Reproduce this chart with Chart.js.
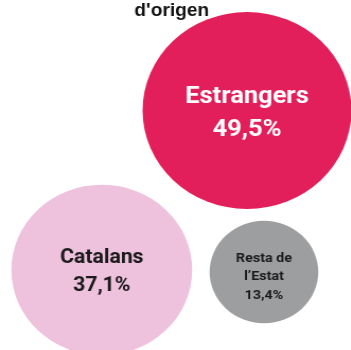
<!DOCTYPE html>
<html>
<head>
<meta charset="utf-8">
<script src="https://cdn.jsdelivr.net/npm/chart.js@4.4.1/dist/chart.umd.min.js"></script>
<style>
  html, body { margin: 0; padding: 0; background: #fff; overflow: hidden; }
  /* the whole graphic is drawn slightly wider than tall */
  #wrap { width: 331px; height: 350px; transform: scaleX(1.06); transform-origin: 0 0; }
</style>
</head>
<body>
<div id="wrap"><canvas id="chart"></canvas></div>
<script>
"use strict";

// ── Data ──
const categories = [["Estrangers"], ["Catalans"], ["Resta de", "l\u2019Estat"]];
const shares     = [49.5, 37.1, 13.4];          // % of population
const centreX    = [233, 96, 249];              // bubble layout (scale units)
const centreY    = [110.5, 270, 272];

// ── Styles ──
const COLOURS    = ["#E21F5B", "#EEC1DD", "#9C9E9F"];
const TEXT_COL   = ["#ffffff", "#1a1a1a", "#1a1a1a"];
const FONT_SIZE  = [24, 20, 13.5];
const LINE_H     = [33, 28, 18.5];
const AREA_K     = 14.0;                        // radius = K * sqrt(share)
const LABEL_FONT = "Roboto, 'Liberation Sans', Arial, sans-serif";

const fmt = v => v.toFixed(1).replace(".", ",") + "%";

const bubbleLabels = {
  id: "bubbleLabels",
  afterDatasetsDraw(chart) {
    const ctx  = chart.ctx;
    const meta = chart.getDatasetMeta(0);
    ctx.save();
    ctx.textAlign = "center";
    ctx.textBaseline = "alphabetic";

    // heading, second line
    ctx.fillStyle = "#111";
    ctx.font = "bold 18px 'Liberation Sans', Arial, sans-serif";
    ctx.fillText("d'origen", 162, 16);

    meta.data.forEach((el, i) => {
      const lines = [...categories[i], fmt(shares[i])];
      const fs = FONT_SIZE[i], lh = LINE_H[i];
      const cap = fs * 0.71;
      const shift = lines.length > 2 ? 3.5 : 0;
      ctx.fillStyle = TEXT_COL[i];
      ctx.font = "bold " + fs + "px " + LABEL_FONT;
      lines.forEach((t, j) => {
        const y = el.y + (j - (lines.length - 1) / 2) * lh + cap / 2 + shift;
        ctx.fillText(t, el.x, y);
      });
    });
    ctx.restore();
  }
};

new Chart(document.getElementById("chart").getContext("2d"), {
  type: "bubble",
  data: {
    datasets: [{
      data: shares.map((s, i) => ({ x: centreX[i], y: centreY[i], r: AREA_K * Math.sqrt(s) })),
      backgroundColor: COLOURS,
      borderWidth: 0,
      hoverRadius: 0,
      clip: false
    }]
  },
  options: {
    responsive: true,
    maintainAspectRatio: false,
    animation: false,
    events: [],
    layout: { autoPadding: false, padding: 0 },
    plugins: { legend: { display: false }, tooltip: { enabled: false }, title: { display: false } },
    scales: {
      x: { type: "linear", min: 0, max: 331, display: false },
      y: { type: "linear", min: 0, max: 350, reverse: true, display: false }
    }
  },
  plugins: [bubbleLabels]
});
</script>
</body>
</html>
